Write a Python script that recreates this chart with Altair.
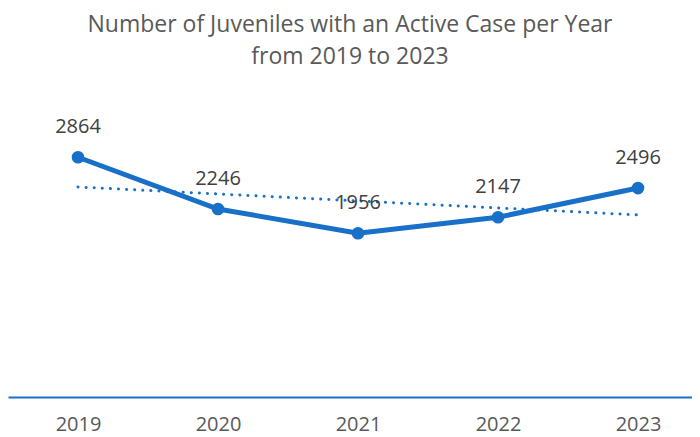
import altair as alt
import pandas as pd

years = [2019, 2020, 2021, 2022, 2023]
counts = [2864, 2246, 1956, 2147, 2496]

df = pd.DataFrame({"year": years, "count": counts})
BLUE = "#1870C8"

x = alt.X("year:Q",
          scale=alt.Scale(domain=[2018.5, 2023.3857], nice=False, zero=False),
          axis=alt.Axis(values=years, format="d", title=None, grid=False, ticks=False,
                        domainColor=BLUE, domainWidth=2, labelColor="#595959",
                        labelFont="Open Sans", labelFontSize=20, labelPadding=33,
                        labelBaseline="alphabetic"))
y = alt.Y("count:Q", scale=alt.Scale(domain=[0, 3500], nice=False), axis=None)

base = alt.Chart(df)
line = base.mark_line(color=BLUE, strokeWidth=5).encode(x=x, y=y)
pts = base.mark_point(color=BLUE, filled=True, size=160, opacity=1).encode(x=x, y=y)
labels = base.mark_text(dy=-30, font="Open Sans", fontSize=20, color="#404040").encode(
    x=x, y=y, text=alt.Text("count:Q", format="d"))
trend = base.transform_regression("year", "count").mark_line(
    color=BLUE, strokeWidth=3, strokeDash=[0.1, 8], strokeCap="round").encode(x=x, y=y)

chart = alt.layer(trend, line, pts, labels).properties(
    width=684, height=293,
    autosize=alt.AutoSizeParams(type="none"),
    padding={"left": 0, "top": 96, "right": 0, "bottom": 40},
    title=alt.TitleParams(["Number of Juveniles with an Active Case per Year", "from 2019 to 2023"],
                          font="Open Sans", fontSize=23, fontWeight="normal", color="#595959",
                          lineHeight=32, anchor="middle", offset=35),
).configure_view(stroke=None)

chart.save("out.html", embed_options={"renderer": "svg", "actions": False})
